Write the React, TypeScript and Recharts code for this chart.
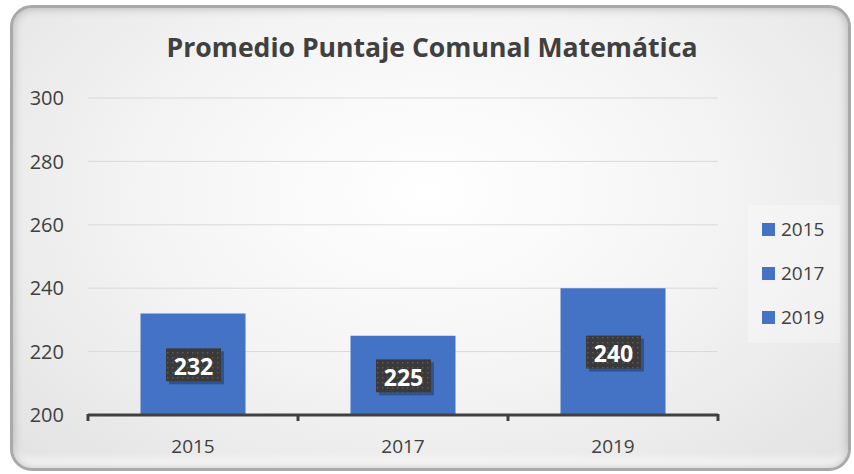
import { BarChart, Bar, XAxis, YAxis, CartesianGrid, LabelList } from 'recharts';

const years = ['2015', '2017', '2019'];
const scores = [232, 225, 240];
const yTicks = [200, 220, 240, 260, 280, 300];

const data = years.map((year, i) => ({ year, score: scores[i] }));

const BLUE = '#4472C4';
const FONT = '"Open Sans", "Liberation Sans", Arial, sans-serif';

function CategoryTick(props: any) {
  const { x, y, payload, index, visibleTicksCount, width } = props;
  const half = payload?.offset ?? width / visibleTicksCount / 2;
  const left = x - half;
  const right = x + half;
  return (
    <g>
      <line x1={left} y1={y - 1} x2={left} y2={y + 6} stroke="#404040" strokeWidth={3} />
      {index === visibleTicksCount - 1 && (
        <line x1={right} y1={y - 1} x2={right} y2={y + 6} stroke="#404040" strokeWidth={3} />
      )}
      <text x={x} y={y + 38} textAnchor="middle" fill="#404040" fontSize={19} fontFamily={FONT}>
        {payload.value}
      </text>
    </g>
  );
}

function ValueBadge(props: any) {
  const { x, y, width, height, value } = props;
  const cx = x + width / 2;
  const cy = y + height / 2;
  return (
    <g>
      <rect x={cx - 27 + 3} y={cy - 16 + 3} width={55} height={33} fill="rgba(0,0,0,0.28)" />
      <rect x={cx - 27} y={cy - 16} width={55} height={33} fill="url(#dots)" />
      <text
        x={cx + 0.5}
        y={cy + 1.5}
        textAnchor="middle"
        dominantBaseline="central"
        fill="#fff"
        fontWeight={700}
        fontSize={23}
        fontFamily={FONT}
      >
        {value}
      </text>
    </g>
  );
}

function YearLegend() {
  return (
    <div
      style={{
        position: 'absolute',
        left: 748,
        top: 205,
        width: 92,
        background: 'rgba(255,255,255,0.3)',
        padding: '2px 0 4px 14px',
        boxSizing: 'border-box',
        fontFamily: FONT,
        fontSize: 19,
        color: '#404040',
      }}
    >
      {years.map((y) => (
        <div key={y} style={{ display: 'flex', alignItems: 'center', height: 44 }}>
          <span style={{ width: 13, height: 13, background: BLUE, marginRight: 6 }} />
          {y}
        </div>
      ))}
    </div>
  );
}

export default function App() {
  return (
    <div style={{ position: 'relative', width: 854, height: 474 }}>
      <style>{'body{margin:0}'}</style>
      <div
        style={{
          position: 'absolute',
          left: 10,
          top: 5,
          width: 835,
          height: 460,
          borderRadius: 22,
          border: '3px solid #a9a9a9',
          boxShadow: 'inset 0 0 10px rgba(0,0,0,0.25), inset 0 -14px 8px -6px rgba(255,255,255,0.9)',
          background: 'radial-gradient(ellipse at 50% 40%, #ffffff 0%, #f5f5f5 45%, #e2e2e2 100%)',
        }}
      />
      <div
        style={{
          position: 'absolute',
          left: 0,
          top: 29,
          width: 864,
          textAlign: 'center',
          fontFamily: FONT,
          fontWeight: 700,
          fontSize: 26.6,
          color: '#404040',
        }}
      >
        Promedio Puntaje Comunal Matemática
      </div>
      <YearLegend />
      <div style={{ position: 'absolute', left: 0, top: 0 }}>
        <BarChart
          width={854}
          height={474}
          data={data}
          margin={{ top: 98, right: 136, left: 0, bottom: 29 }}
          barCategoryGap="25%"
        >
          <defs>
            <pattern id="dots" width="5" height="5" patternUnits="userSpaceOnUse">
              <rect width="5" height="5" fill="#3a3a3a" />
              <rect x="2" y="2" width="1.4" height="1.4" fill="#5c5c5c" />
            </pattern>
          </defs>
          <CartesianGrid vertical={false} stroke="#d9d9d9" />
          <YAxis
            domain={[200, 300]}
            ticks={yTicks}
            width={88}
            axisLine={false}
            tickLine={false}
            tickSize={6}
            tickMargin={18}
            tick={{ fill: '#404040', fontSize: 20, fontFamily: FONT }}
          />
          <XAxis
            dataKey="year"
            height={30}
            axisLine={{ stroke: '#404040', strokeWidth: 3 }}
            tickLine={false}
            tickSize={0}
            tickMargin={0}
            tick={<CategoryTick />}
            interval={0}
          />
          <Bar dataKey="score" fill={BLUE} isAnimationActive={false}>
            <LabelList dataKey="score" content={<ValueBadge />} />
          </Bar>
        </BarChart>
      </div>
    </div>
  );
}
